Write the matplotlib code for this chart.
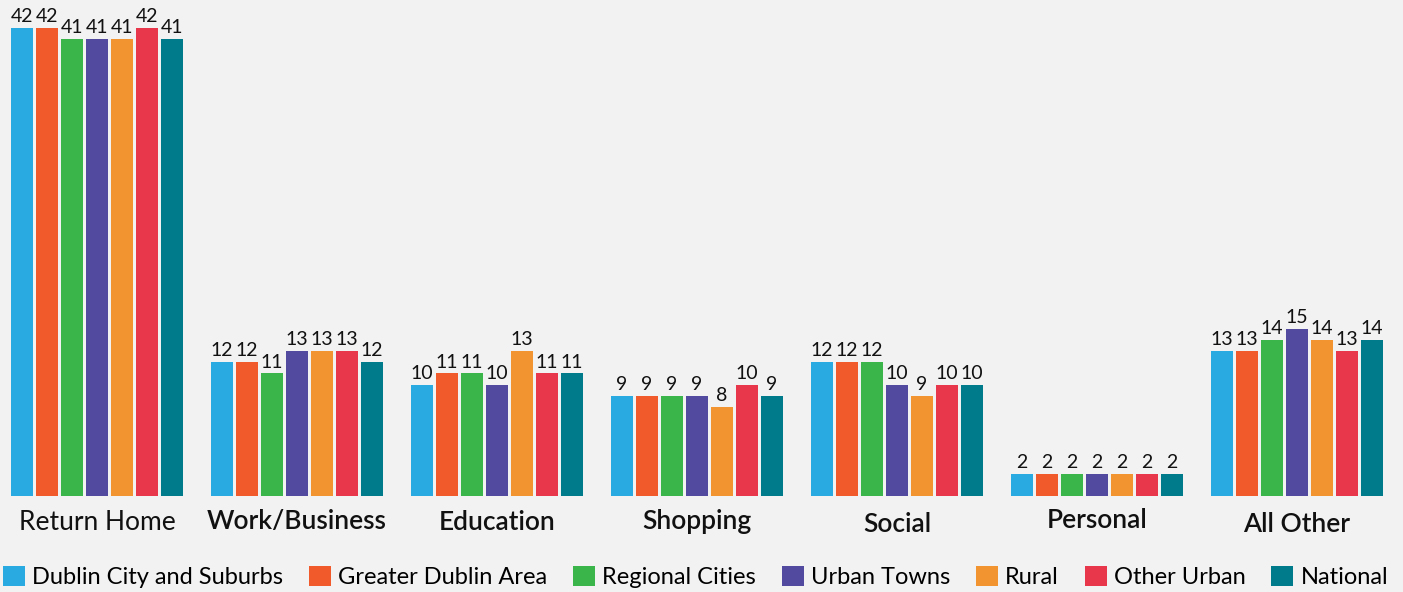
import numpy as np
import matplotlib
matplotlib.use('Agg')
import matplotlib.pyplot as plt
from matplotlib.patches import Patch

plt.rcParams['font.family'] = ['Lato', 'DejaVu Sans']

# data
categories = ['Return Home', 'Work/Business', 'Education', 'Shopping',
              'Social', 'Personal', 'All Other']
series = ['Dublin City and Suburbs', 'Greater Dublin Area', 'Regional Cities',
          'Urban Towns', 'Rural', 'Other Urban', 'National']
dublin_city = [42, 12, 10, 9, 12, 2, 13]
greater_dublin = [42, 12, 11, 9, 12, 2, 13]
regional_cities = [41, 11, 11, 9, 12, 2, 14]
urban_towns = [41, 13, 10, 9, 10, 2, 15]
rural = [41, 13, 13, 8, 9, 2, 14]
other_urban = [42, 13, 11, 10, 10, 2, 13]
national = [41, 12, 11, 9, 10, 2, 14]
values = [dublin_city, greater_dublin, regional_cities, urban_towns,
          rural, other_urban, national]

colors = ['#29abe2', '#f15a2b', '#39b54a', '#524a9e', '#f29530', '#e8374a', '#007b8c']
bg = '#f2f2f2'

fig = plt.figure(figsize=(14.03, 5.92), dpi=100, facecolor=bg)
ax = fig.add_axes([0, 96/592, 1, 496/592], facecolor=bg)

x = np.arange(len(categories))
step = 0.125
width = 0.11
for j, (name, vals) in enumerate(zip(series, values)):
    pos = x + (j - 3) * step
    bars = ax.bar(pos, vals, width, color=colors[j], label=name)
    for b, v in zip(bars, vals):
        ax.text(b.get_x() + b.get_width()/2, v + 0.25, str(v),
                ha='center', va='bottom', fontsize=14, color='#111111')

ax.set_xlim(-97/200, (1403-97)/200)
ax.set_ylim(0, 496/11.15)
ax.axis('off')

# category labels under each group
lab_weight = ['normal', 'semibold', 'semibold', 'semibold', 'semibold', 'semibold', 'semibold']
lab_dy = [0, 0, 0, 0, 3, -2, 3]
for i, c in enumerate(categories):
    fig.text((97 + 200*i)/1403, 1 - (522 + lab_dy[i])/592, c, ha='center', va='center',
             fontsize=19, fontweight=lab_weight[i], color='#111111')

handles = [Patch(facecolor=colors[j], label=series[j]) for j in range(len(series))]
fig.legend(handles=handles, loc='center', bbox_to_anchor=(0.4957, 1 - 577/592),
           ncol=7, frameon=False, fontsize=17, handlelength=0.93, handleheight=0.93,
           handletextpad=0.3, columnspacing=1.1, borderpad=0, borderaxespad=0)

fig.savefig('out.png', dpi=100, facecolor=bg)
